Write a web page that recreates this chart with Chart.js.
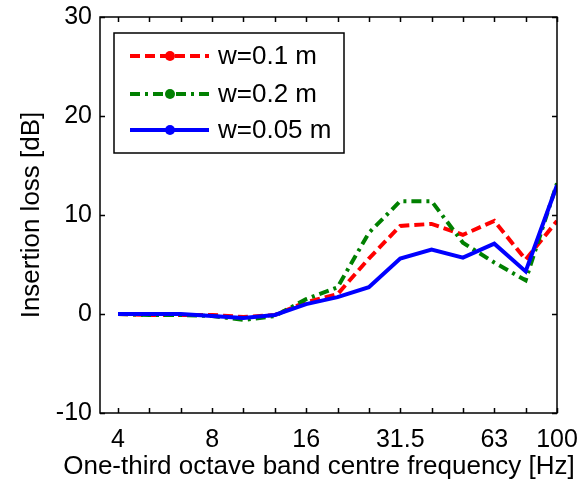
<!DOCTYPE html>
<html>
<head>
<meta charset="utf-8">
<script src="https://cdn.jsdelivr.net/npm/chart.js@4"></script>
<style>
  html, body { margin: 0; padding: 0; background: #fff; }
  #wrap { width: 581px; height: 486px; }
</style>
</head>
<body>
<div id="wrap"><canvas id="ilChart" width="581" height="486"></canvas></div>
<script>
// one-third octave band centre frequencies [Hz]
const bands = ["4", "5", "6.3", "8", "10", "12.5", "16", "20", "25", "31.5", "40", "50", "63", "80", "100"];
const labelledBands = ["4", "8", "16", "31.5", "63", "100"];
const yTicks = [-10, 0, 10, 20, 30];

// insertion loss [dB] per band
const lossW010 = [0, -0.1, -0.1, -0.1, -0.3, -0.1, 1.2, 2.0, 5.6, 8.9, 9.1, 8.0, 9.4, 5.5, 9.4];
const lossW020 = [0, -0.1, -0.1, -0.2, -0.6, -0.2, 1.5, 2.7, 8.2, 11.4, 11.4, 7.2, 5.2, 3.4, 13.2];
const lossW005 = [0, 0, 0, -0.2, -0.4, -0.1, 1.0, 1.7, 2.7, 5.6, 6.5, 5.7, 7.1, 4.3, 13.0];

const xTitle = "One-third octave band centre frequency [Hz]";
const FONT = "'Liberation Sans', Arial, sans-serif";

function toPoints(values) {
  return values.map((v, i) => ({ x: i, y: v }));
}

// keep the plot area fixed, whatever the tick labels need
function fixSize(prop, size) {
  return (scale) => {
    scale[prop] = size;
    scale.paddingTop = 0;
    scale.paddingBottom = 0;
    scale.paddingLeft = 0;
    scale.paddingRight = 0;
  };
}

// Matlab-style box with inward ticks on all four sides, plus the x title
const boxPlugin = {
  id: "boxTicks",
  afterDatasetsDraw(chart) {
    const { ctx, chartArea: a, scales } = chart;
    ctx.save();
    ctx.strokeStyle = "#000";
    ctx.lineWidth = 1.5;
    ctx.strokeRect(a.left, a.top, a.right - a.left, a.bottom - a.top);
    ctx.beginPath();
    bands.forEach((b, i) => {
      const x = Math.round(scales.x.getPixelForValue(i)) + 0.5;
      ctx.moveTo(x, a.bottom);
      ctx.lineTo(x, a.bottom - 5);
      ctx.moveTo(x, a.top);
      ctx.lineTo(x, a.top + 5);
    });
    yTicks.forEach((t) => {
      const y = Math.round(scales.y.getPixelForValue(t)) + 0.5;
      ctx.moveTo(a.left, y);
      ctx.lineTo(a.left + 5, y);
      ctx.moveTo(a.right, y);
      ctx.lineTo(a.right - 5, y);
    });
    ctx.stroke();

    // title is wider than the axis, so it is drawn here without a maxWidth
    ctx.fillStyle = "#000";
    ctx.font = "26px " + FONT;
    ctx.textAlign = "center";
    ctx.textBaseline = "middle";
    ctx.fillText(xTitle, 319, 467);
    ctx.restore();
  },
};

// boxed legend in the upper left corner
const legendPlugin = {
  id: "boxLegend",
  afterDraw(chart) {
    const { ctx } = chart;
    const left = 114, top = 33, width = 230, height = 120;
    const rows = [56, 94, 130];
    const items = [0, 1, 2].map((i) => chart.data.datasets[i]);
    ctx.save();
    ctx.fillStyle = "#fff";
    ctx.fillRect(left, top, width, height);
    ctx.strokeStyle = "#000";
    ctx.lineWidth = 1.5;
    ctx.strokeRect(left, top, width, height);
    items.forEach((ds, i) => {
      const y = rows[i];
      ctx.strokeStyle = ds.borderColor;
      ctx.lineWidth = ds.borderWidth;
      ctx.setLineDash(ds.borderDash || []);
      ctx.beginPath();
      ctx.moveTo(130, y);
      ctx.lineTo(209, y);
      ctx.stroke();
      ctx.setLineDash([]);
      ctx.fillStyle = ds.borderColor;
      ctx.beginPath();
      ctx.arc(170, y, 5, 0, Math.PI * 2);
      ctx.fill();
      ctx.fillStyle = "#000";
      ctx.font = "26px " + FONT;
      ctx.textBaseline = "middle";
      ctx.textAlign = "left";
      ctx.fillText(ds.label, 218, y + 1);
    });
    ctx.restore();
  },
};

new Chart(document.getElementById("ilChart"), {
  type: "line",
  data: {
    datasets: [
      {
        label: "w=0.1 m",
        data: toPoints(lossW010),
        borderColor: "#ff0000",
        borderWidth: 4,
        borderDash: [10, 5],
        order: 2,
      },
      {
        label: "w=0.2 m",
        data: toPoints(lossW020),
        borderColor: "#008000",
        borderWidth: 4,
        borderDash: [10, 5, 3, 5],
        order: 1,
      },
      {
        label: "w=0.05 m",
        data: toPoints(lossW005),
        borderColor: "#0000ff",
        borderWidth: 4,
        order: 0,
      },
    ],
  },
  options: {
    responsive: false,
    animation: false,
    layout: { padding: { top: 17, right: 24, left: 0, bottom: 0 } },
    elements: {
      line: { tension: 0, fill: false },
      point: { radius: 0, hoverRadius: 0 },
    },
    plugins: {
      legend: { display: false },
      tooltip: { enabled: false },
    },
    scales: {
      x: {
        type: "linear",
        min: -0.575,
        max: 14,
        afterFit: fixSize("height", 73),
        afterBuildTicks(scale) {
          scale.ticks = bands.map((b, i) => ({ value: i }));
        },
        grid: { display: false, drawTicks: false },
        border: { display: false },
        ticks: {
          autoSkip: false,
          maxRotation: 0,
          padding: 12,
          color: "#000",
          font: { family: FONT, size: 25 },
          callback: (v) => (labelledBands.includes(bands[v]) ? bands[v] : ""),
        },
        title: { display: false },
      },
      y: {
        min: -10,
        max: 30,
        afterFit: fixSize("width", 100),
        afterBuildTicks(scale) {
          scale.ticks = yTicks.map((t) => ({ value: t }));
        },
        grid: { display: false, drawTicks: false },
        border: { display: false },
        ticks: {
          padding: 8,
          color: "#000",
          font: { family: FONT, size: 25 },
        },
        title: {
          display: true,
          text: "Insertion loss [dB]",
          color: "#000",
          font: { family: FONT, size: 26 },
          padding: { top: 16, bottom: 0 },
        },
      },
    },
  },
  plugins: [boxPlugin, legendPlugin],
});
</script>
</body>
</html>
